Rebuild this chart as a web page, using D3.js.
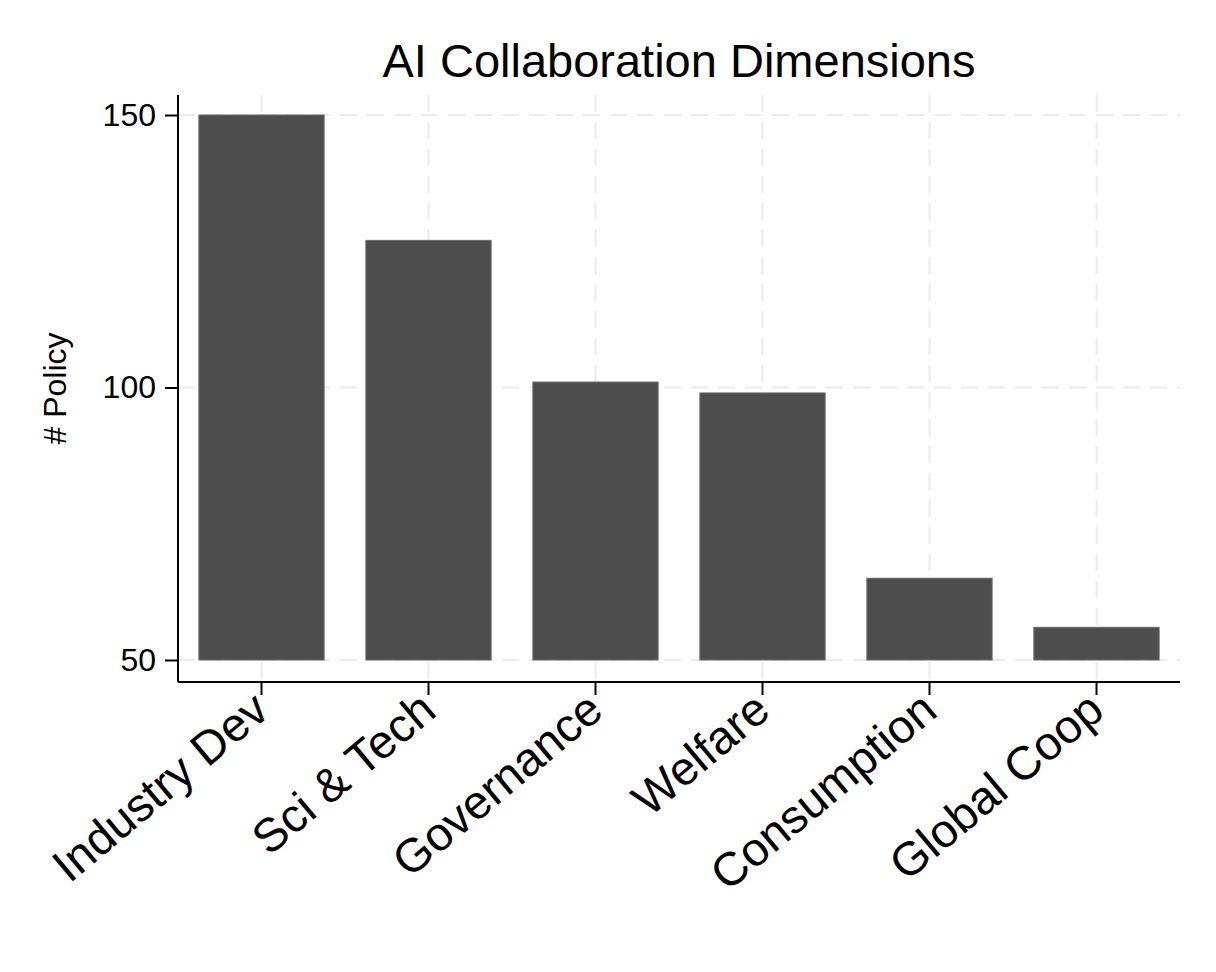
<!DOCTYPE html>
<html>
<head>
<meta charset="utf-8">
<script src="https://cdn.jsdelivr.net/npm/d3@7"></script>
<style>
  html, body { margin: 0; padding: 0; background: #fff; }
  svg { display: block; font-family: "Liberation Sans", Arial, Helvetica, sans-serif; }
</style>
</head>
<body>
<svg id="chart" width="1216" height="972"></svg>
<script>
// ---- data ----
const categories = ["Industry Dev", "Sci & Tech", "Governance", "Welfare", "Consumption", "Global Coop"];
const policyCounts = [150, 127, 101, 99, 65, 56];
const yTicks = [50, 100, 150];
const barBase = 50;
const chartTitle = "AI Collaboration Dimensions";
const yTitle = "# Policy";

// ---- layout ----
const W = 1216, H = 972;
const plot = { left: 178, right: 1180, top: 95, bottom: 682 };

const svg = d3.select("#chart");
svg.append("rect").attr("width", W).attr("height", H).attr("fill", "#fff");

const x = d3.scaleBand().domain(categories).range([plot.left, plot.right]).paddingInner(0).paddingOuter(0);
const y = d3.scaleLinear().domain([50, 150]).range([660, 115]);

const barW = x.bandwidth() * 0.75;
const cx = d => x(d) + x.bandwidth() / 2;

// gridlines
const grid = svg.append("g").attr("stroke", "#ebebeb").attr("stroke-width", 2).attr("stroke-dasharray", "17,10").attr("fill", "none");
grid.selectAll("line.h").data(yTicks).join("line")
  .attr("x1", plot.left).attr("x2", plot.right)
  .attr("y1", d => y(d)).attr("y2", d => y(d));
grid.selectAll("line.v").data(categories).join("line")
  .attr("x1", d => cx(d)).attr("x2", d => cx(d))
  .attr("y1", plot.top).attr("y2", plot.bottom);

// bars
svg.append("g").selectAll("rect").data(categories).join("rect")
  .attr("x", d => cx(d) - barW / 2)
  .attr("width", barW)
  .attr("y", (d, i) => y(policyCounts[i]))
  .attr("height", (d, i) => y(barBase) - y(policyCounts[i]))
  .attr("fill", "#4d4d4d")
  .attr("stroke", "#6a6a6a")
  .attr("stroke-width", 1);

// y axis
const yAxis = svg.append("g").attr("transform", `translate(${plot.left},0)`)
  .call(d3.axisLeft(y).tickValues(yTicks).tickSize(13).tickPadding(9).tickSizeOuter(0));
yAxis.select(".domain").remove();
yAxis.append("line").attr("x1", 0).attr("x2", 0).attr("y1", plot.top).attr("y2", plot.bottom)
  .attr("stroke", "#000").attr("stroke-width", 2);
yAxis.selectAll(".tick line").attr("stroke", "#000").attr("stroke-width", 2);
yAxis.selectAll(".tick text").attr("font-size", 32).attr("fill", "#000")
  .attr("font-family", "'Liberation Sans', Arial, sans-serif");

// x axis
const xAxis = svg.append("g").attr("transform", `translate(0,${plot.bottom})`)
  .call(d3.axisBottom(x).tickSize(13).tickSizeOuter(0).tickPadding(0));
xAxis.select(".domain").remove();
xAxis.append("line").attr("x1", plot.left).attr("x2", plot.right).attr("y1", 0).attr("y2", 0)
  .attr("stroke", "#000").attr("stroke-width", 2);
xAxis.selectAll(".tick line").attr("stroke", "#000").attr("stroke-width", 2);
xAxis.selectAll(".tick text")
  .attr("font-size", 47).attr("fill", "#000")
  .attr("font-family", "'Liberation Sans', Arial, sans-serif")
  .attr("text-anchor", "end")
  .attr("x", 0).attr("y", 0)
  .attr("dy", 15.6)
  .attr("transform", "translate(0,20.5) rotate(-40)");

// y title
svg.append("text")
  .attr("transform", `translate(66,${(plot.top + plot.bottom) / 2}) rotate(-90)`)
  .attr("text-anchor", "middle")
  .attr("font-size", 32)
  .attr("fill", "#000")
  .text(yTitle);

// title
svg.append("text")
  .attr("x", (plot.left + plot.right) / 2)
  .attr("y", 77)
  .attr("text-anchor", "middle")
  .attr("font-size", 47)
  .attr("fill", "#000")
  .text(chartTitle);
</script>
</body>
</html>
